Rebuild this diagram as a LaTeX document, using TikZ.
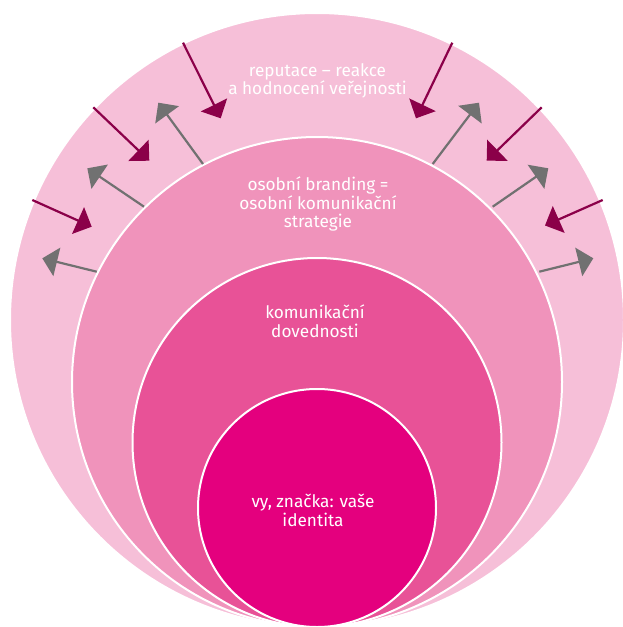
\documentclass[tikz,border=0pt]{standalone}
\usepackage{fontspec}
\setmainfont{Fira Sans}
\usetikzlibrary{arrows.meta}
\definecolor{ringA}{HTML}{F6BFD8}
\definecolor{ringB}{HTML}{F093BB}
\definecolor{ringC}{HTML}{E85297}
\definecolor{ringD}{HTML}{E4007E}
\definecolor{inarrow}{HTML}{8B0049}
\definecolor{outarrow}{HTML}{717171}
\begin{document}
\begin{tikzpicture}[x=1pt,y=-1pt,
  ring/.style={circle, draw=white, line width=2pt, inner sep=0pt, outer sep=0pt},
  lbl/.style={text=white, align=center, font=\fontsize{17.2}{18.3}\selectfont, inner sep=0pt, anchor=base},
  inarr/.style={draw=inarrow, line width=2.2pt, -{Triangle[length=15pt,width=29pt]}},
  outarr/.style={draw=outarrow, line width=2.2pt, -{Triangle[length=15pt,width=29pt]}}]
\useasboundingbox (0,0) rectangle (623,627);
\clip (0,0) rectangle (623,627);
% rings
\node[ring, fill=ringA, minimum size=614pt] (reputation) at (317,320) {};
\node[ring, fill=ringB, minimum size=490pt] (branding) at (317,382) {};
\node[ring, fill=ringC, minimum size=369pt] (skills) at (317,442.5) {};
\node[ring, fill=ringD, minimum size=238pt] (identity) at (317,508) {};
% labels (anchored at the baseline of their last line)
\node[lbl] (reputationtext) at (317.5,94.3) {reputace – reakce\\a hodnocení veřejnosti};
\node[lbl] (brandingtext) at (318,227.3) {osobní branding =\\osobní komunikační\\strategie};
\node[lbl] (skillstext) at (315,337) {komunikační\\dovednosti};
\node[lbl] (identitytext) at (313,526) {vy, značka: vaše\\identita};
% inward arrows (public reaction)
\coordinate (m1a) at (183,42.7);   \coordinate (m1b) at (220.7,118.3);
\coordinate (m2a) at (93.3,107.3); \coordinate (m2b) at (149.3,160.7);
\coordinate (m3a) at (32.3,200);   \coordinate (m3b) at (91.7,226.7);
\coordinate (m4a) at (452.3,42.7); \coordinate (m4b) at (416,118.3);
\coordinate (m5a) at (541.7,107.3);\coordinate (m5b) at (486.7,160.7);
\coordinate (m6a) at (602.7,200);  \coordinate (m6b) at (545,225.5);
\draw[inarr] (m1a) -- (m1b);
\draw[inarr] (m2a) -- (m2b);
\draw[inarr] (m3a) -- (m3b);
\draw[inarr] (m4a) -- (m4b);
\draw[inarr] (m5a) -- (m5b);
\draw[inarr] (m6a) -- (m6b);
% outward arrows (communication)
\coordinate (g1a) at (203,164);    \coordinate (g1b) at (158.3,102.7);
\coordinate (g2a) at (144,206.7);  \coordinate (g2b) at (87.3,168.3);
\coordinate (g3a) at (96.7,271.7); \coordinate (g3b) at (42.3,258.3);
\coordinate (g4a) at (432.7,164);  \coordinate (g4b) at (479,102.7);
\coordinate (g5a) at (492.7,206.7);\coordinate (g5b) at (548.3,168.3);
\coordinate (g6a) at (539.3,271.7);\coordinate (g6b) at (593.3,258.3);
\draw[outarr] (g1a) -- (g1b);
\draw[outarr] (g2a) -- (g2b);
\draw[outarr] (g3a) -- (g3b);
\draw[outarr] (g4a) -- (g4b);
\draw[outarr] (g5a) -- (g5b);
\draw[outarr] (g6a) -- (g6b);
\end{tikzpicture}
\end{document}
